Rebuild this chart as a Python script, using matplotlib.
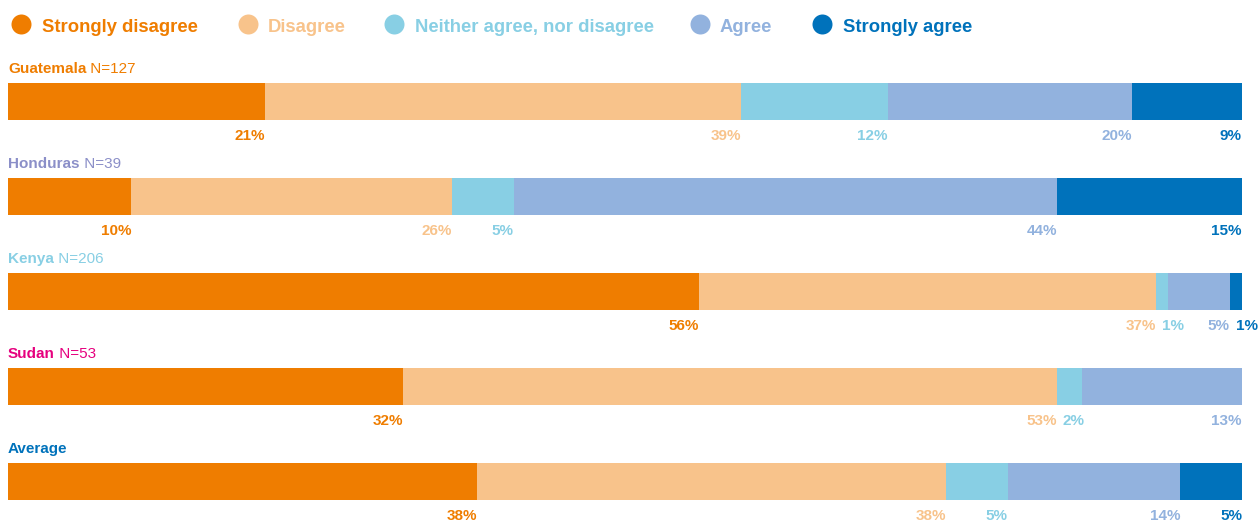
import matplotlib
matplotlib.use("Agg")
import matplotlib.pyplot as plt
from matplotlib.lines import Line2D

# Survey responses (percent of respondents)
responses = ["Strongly disagree", "Disagree", "Neither agree, nor disagree",
             "Agree", "Strongly agree"]
response_colors = ["#EF7D00", "#F8C38B", "#88CFE4", "#92B2DE", "#0072BB"]

groups = ["Guatemala", "Honduras", "Kenya", "Sudan", "Average"]
sample_sizes = ["N=127", "N=39", "N=206", "N=53", ""]
group_colors = ["#EF7D00", "#8B8FC8", "#88CFE4", "#E6007E", "#0072BB"]

strongly_disagree = [21, 10, 56, 32, 38]
disagree = [39, 26, 37, 53, 38]
neither = [12, 5, 1, 2, 5]
agree = [20, 44, 5, 13, 14]
strongly_agree = [9, 15, 1, 0, 5]

series = [strongly_disagree, disagree, neither, agree, strongly_agree]

W, H, DPI = 1260, 521, 100
fig = plt.figure(figsize=(W / DPI, H / DPI), dpi=DPI)
plt.rcParams["font.family"] = ["Liberation Sans", "DejaVu Sans"]


def fx(px):
    return px / W


def fy(py):
    return 1 - py / H


# Legend row
legend_circle_x = [21, 248, 394, 700, 822]
legend_text_x = [42, 268, 415, 720, 843]
for name, col, cx, tx in zip(responses, response_colors, legend_circle_x, legend_text_x):
    fig.add_artist(Line2D([fx(cx)], [fy(24)], marker="o", markersize=14.4,
                          color=col, markeredgewidth=0, transform=fig.transFigure))
    fig.text(fx(tx), fy(32), name, color=col, fontsize=13.3, fontweight="bold",
             va="baseline", ha="left")

bar_left, bar_width = 8, 1234
bar_h = 37
first_bar_top = 83
row_step = 95

fig.canvas.draw()
renderer = fig.canvas.get_renderer()

for i, grp in enumerate(groups):
    top = first_bar_top + i * row_step
    ax = fig.add_axes([fx(bar_left), fy(top + bar_h), bar_width / W, bar_h / H])
    values = [s[i] for s in series]
    total = sum(values)
    ax.set_xlim(0, total)
    ax.set_ylim(0, 1)
    ax.axis("off")

    left = 0
    labels = []
    for v, col in zip(values, response_colors):
        if v <= 0:
            continue
        ax.barh(0.5, v, left=left, height=1.0, color=col, linewidth=0)
        t = ax.annotate(f"{v}%", xy=(left + v, 0), xycoords="data",
                        xytext=(0, -20), textcoords="offset pixels",
                        ha="right", va="baseline", color=col,
                        fontsize=11, fontweight="bold")
        labels.append(t)
        left += v

    # Push overlapping value labels to the right
    fig.canvas.draw()
    prev_right = None
    for t in labels:
        bb = t.get_window_extent(renderer)
        if prev_right is not None and bb.x0 < prev_right + 6:
            shift = prev_right + 6 - bb.x0
            ox, oy = t.xyann
            t.xyann = (ox + shift, oy)
            bb = t.get_window_extent(renderer)
        prev_right = bb.x1

    # Group title: bold name followed by regular sample size
    title = fig.text(fx(8), fy(top - 7), grp, color=group_colors[i], fontsize=11,
                     fontweight="bold", va="bottom", ha="left")
    if sample_sizes[i]:
        fig.text(0, 0, " " + sample_sizes[i], color=group_colors[i], fontsize=11,
                 va="bottom", ha="left",
                 transform=matplotlib.transforms.offset_copy(
                     fig.transFigure, fig=fig, x=0, y=0))
        extra = fig.texts[-1]
        fig.canvas.draw()
        bb = title.get_window_extent(renderer)
        extra.set_transform(fig.transFigure)
        extra.set_position((bb.x1 / W, bb.y0 / H))

fig.savefig("out.png", dpi=DPI)
